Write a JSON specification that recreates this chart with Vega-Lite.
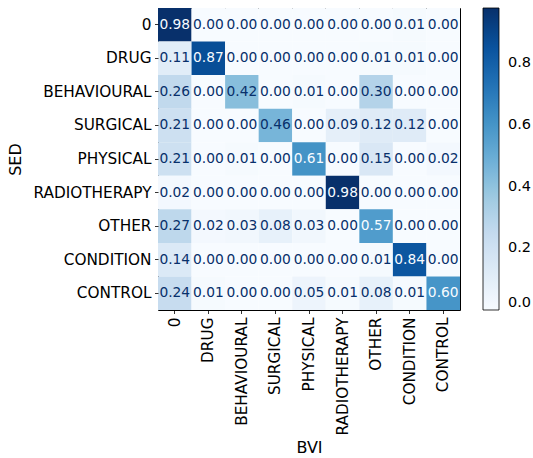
{
  "$schema": "https://vega.github.io/schema/vega-lite/v6.json",
  "autosize": "none",
  "padding": {"left": 158, "top": 8, "right": 73, "bottom": 148},
  "width": 302,
  "height": 302,
  "background": "white",
  "config": {
    "font": "DejaVu Sans",
    "view": {"stroke": "black", "strokeWidth": 1},
    "axis": {
      "domain": false,
      "grid": false,
      "tickColor": "black",
      "tickSize": 3.5,
      "tickWidth": 0.8,
      "labelPadding": 3.5,
      "labelFontSize": 15.3,
      "labelColor": "black",
      "titleFontSize": 16,
      "titleFontWeight": "normal",
      "titleColor": "black"
    }
  },
  "data": {
    "values": [
      {"SED": "0", "BVI": "0", "v": 0.98}, {"SED": "0", "BVI": "DRUG", "v": 0.0}, {"SED": "0", "BVI": "BEHAVIOURAL", "v": 0.0}, {"SED": "0", "BVI": "SURGICAL", "v": 0.0}, {"SED": "0", "BVI": "PHYSICAL", "v": 0.0}, {"SED": "0", "BVI": "RADIOTHERAPY", "v": 0.0}, {"SED": "0", "BVI": "OTHER", "v": 0.0}, {"SED": "0", "BVI": "CONDITION", "v": 0.01}, {"SED": "0", "BVI": "CONTROL", "v": 0.0},
      {"SED": "DRUG", "BVI": "0", "v": 0.11}, {"SED": "DRUG", "BVI": "DRUG", "v": 0.87}, {"SED": "DRUG", "BVI": "BEHAVIOURAL", "v": 0.0}, {"SED": "DRUG", "BVI": "SURGICAL", "v": 0.0}, {"SED": "DRUG", "BVI": "PHYSICAL", "v": 0.0}, {"SED": "DRUG", "BVI": "RADIOTHERAPY", "v": 0.0}, {"SED": "DRUG", "BVI": "OTHER", "v": 0.01}, {"SED": "DRUG", "BVI": "CONDITION", "v": 0.01}, {"SED": "DRUG", "BVI": "CONTROL", "v": 0.0},
      {"SED": "BEHAVIOURAL", "BVI": "0", "v": 0.26}, {"SED": "BEHAVIOURAL", "BVI": "DRUG", "v": 0.0}, {"SED": "BEHAVIOURAL", "BVI": "BEHAVIOURAL", "v": 0.42}, {"SED": "BEHAVIOURAL", "BVI": "SURGICAL", "v": 0.0}, {"SED": "BEHAVIOURAL", "BVI": "PHYSICAL", "v": 0.01}, {"SED": "BEHAVIOURAL", "BVI": "RADIOTHERAPY", "v": 0.0}, {"SED": "BEHAVIOURAL", "BVI": "OTHER", "v": 0.30}, {"SED": "BEHAVIOURAL", "BVI": "CONDITION", "v": 0.0}, {"SED": "BEHAVIOURAL", "BVI": "CONTROL", "v": 0.0},
      {"SED": "SURGICAL", "BVI": "0", "v": 0.21}, {"SED": "SURGICAL", "BVI": "DRUG", "v": 0.0}, {"SED": "SURGICAL", "BVI": "BEHAVIOURAL", "v": 0.0}, {"SED": "SURGICAL", "BVI": "SURGICAL", "v": 0.46}, {"SED": "SURGICAL", "BVI": "PHYSICAL", "v": 0.0}, {"SED": "SURGICAL", "BVI": "RADIOTHERAPY", "v": 0.09}, {"SED": "SURGICAL", "BVI": "OTHER", "v": 0.12}, {"SED": "SURGICAL", "BVI": "CONDITION", "v": 0.12}, {"SED": "SURGICAL", "BVI": "CONTROL", "v": 0.0},
      {"SED": "PHYSICAL", "BVI": "0", "v": 0.21}, {"SED": "PHYSICAL", "BVI": "DRUG", "v": 0.0}, {"SED": "PHYSICAL", "BVI": "BEHAVIOURAL", "v": 0.01}, {"SED": "PHYSICAL", "BVI": "SURGICAL", "v": 0.0}, {"SED": "PHYSICAL", "BVI": "PHYSICAL", "v": 0.61}, {"SED": "PHYSICAL", "BVI": "RADIOTHERAPY", "v": 0.0}, {"SED": "PHYSICAL", "BVI": "OTHER", "v": 0.15}, {"SED": "PHYSICAL", "BVI": "CONDITION", "v": 0.0}, {"SED": "PHYSICAL", "BVI": "CONTROL", "v": 0.02},
      {"SED": "RADIOTHERAPY", "BVI": "0", "v": 0.02}, {"SED": "RADIOTHERAPY", "BVI": "DRUG", "v": 0.0}, {"SED": "RADIOTHERAPY", "BVI": "BEHAVIOURAL", "v": 0.0}, {"SED": "RADIOTHERAPY", "BVI": "SURGICAL", "v": 0.0}, {"SED": "RADIOTHERAPY", "BVI": "PHYSICAL", "v": 0.0}, {"SED": "RADIOTHERAPY", "BVI": "RADIOTHERAPY", "v": 0.98}, {"SED": "RADIOTHERAPY", "BVI": "OTHER", "v": 0.0}, {"SED": "RADIOTHERAPY", "BVI": "CONDITION", "v": 0.0}, {"SED": "RADIOTHERAPY", "BVI": "CONTROL", "v": 0.0},
      {"SED": "OTHER", "BVI": "0", "v": 0.27}, {"SED": "OTHER", "BVI": "DRUG", "v": 0.02}, {"SED": "OTHER", "BVI": "BEHAVIOURAL", "v": 0.03}, {"SED": "OTHER", "BVI": "SURGICAL", "v": 0.08}, {"SED": "OTHER", "BVI": "PHYSICAL", "v": 0.03}, {"SED": "OTHER", "BVI": "RADIOTHERAPY", "v": 0.0}, {"SED": "OTHER", "BVI": "OTHER", "v": 0.57}, {"SED": "OTHER", "BVI": "CONDITION", "v": 0.0}, {"SED": "OTHER", "BVI": "CONTROL", "v": 0.0},
      {"SED": "CONDITION", "BVI": "0", "v": 0.14}, {"SED": "CONDITION", "BVI": "DRUG", "v": 0.0}, {"SED": "CONDITION", "BVI": "BEHAVIOURAL", "v": 0.0}, {"SED": "CONDITION", "BVI": "SURGICAL", "v": 0.0}, {"SED": "CONDITION", "BVI": "PHYSICAL", "v": 0.0}, {"SED": "CONDITION", "BVI": "RADIOTHERAPY", "v": 0.0}, {"SED": "CONDITION", "BVI": "OTHER", "v": 0.01}, {"SED": "CONDITION", "BVI": "CONDITION", "v": 0.84}, {"SED": "CONDITION", "BVI": "CONTROL", "v": 0.0},
      {"SED": "CONTROL", "BVI": "0", "v": 0.24}, {"SED": "CONTROL", "BVI": "DRUG", "v": 0.01}, {"SED": "CONTROL", "BVI": "BEHAVIOURAL", "v": 0.0}, {"SED": "CONTROL", "BVI": "SURGICAL", "v": 0.0}, {"SED": "CONTROL", "BVI": "PHYSICAL", "v": 0.05}, {"SED": "CONTROL", "BVI": "RADIOTHERAPY", "v": 0.01}, {"SED": "CONTROL", "BVI": "OTHER", "v": 0.08}, {"SED": "CONTROL", "BVI": "CONDITION", "v": 0.01}, {"SED": "CONTROL", "BVI": "CONTROL", "v": 0.60}
    ]
  },
  "encoding": {
    "x": {
      "field": "BVI",
      "type": "nominal",
      "scale": {"domain": ["0", "DRUG", "BEHAVIOURAL", "SURGICAL", "PHYSICAL", "RADIOTHERAPY", "OTHER", "CONDITION", "CONTROL"], "paddingInner": 0, "paddingOuter": 0},
      "axis": {"labelAngle": 270, "title": "BVI", "titleX": 151, "titleY": 137, "titleBaseline": "middle", "titleAlign": "center"}
    },
    "y": {
      "field": "SED",
      "type": "nominal",
      "scale": {"domain": ["0", "DRUG", "BEHAVIOURAL", "SURGICAL", "PHYSICAL", "RADIOTHERAPY", "OTHER", "CONDITION", "CONTROL"], "paddingInner": 0, "paddingOuter": 0},
      "axis": {"title": "SED", "titleX": -143, "titleY": 151, "titleAngle": 270, "titleBaseline": "middle", "titleAlign": "center"}
    }
  },
  "layer": [
    {
      "mark": {"type": "rect"},
      "encoding": {
        "color": {
          "field": "v",
          "type": "quantitative",
          "scale": {
            "domain": [0, 0.1225, 0.245, 0.3675, 0.49, 0.6125, 0.735, 0.8575, 0.98],
            "range": ["#f7fbff", "#deebf7", "#c6dbef", "#9ecae1", "#6baed6", "#4292c6", "#2171b5", "#08519c", "#08306b"],
            "interpolate": "rgb"
          },
          "legend": {
            "title": null,
            "orient": "none",
            "legendX": 325,
            "legendY": 0,
            "padding": 0,
            "direction": "vertical",
            "gradientLength": 302,
            "gradientThickness": 16,
            "gradientStrokeColor": "black",
            "gradientStrokeWidth": 0.8,
            "values": [0, 0.2, 0.4, 0.6, 0.8],
            "format": ".1f",
            "labelFontSize": 14.5,
            "labelColor": "black",
            "labelOffset": 9
          }
        }
      }
    },
    {
      "mark": {"type": "text", "fontSize": 13.8, "baseline": "middle", "align": "center"},
      "encoding": {
        "text": {"field": "v", "type": "quantitative", "format": ".2f"},
        "color": {
          "condition": {"test": "datum.v > 0.49", "value": "#f7fbff"},
          "value": "#08306b"
        }
      }
    }
  ]
}
